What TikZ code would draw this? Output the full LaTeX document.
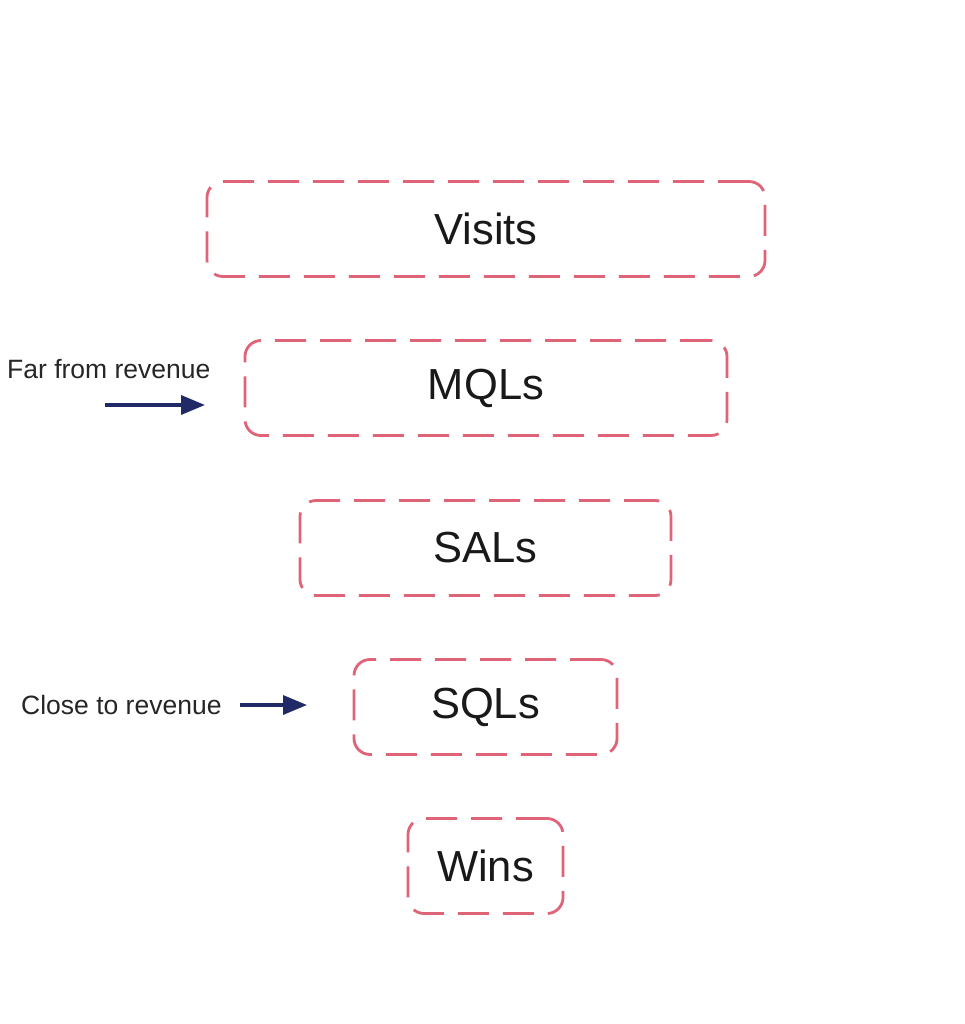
\documentclass[tikz,border=0pt]{standalone}
\usepackage{fontspec}
\setmainfont{Liberation Sans}
\usetikzlibrary{arrows.meta}
\definecolor{boxred}{HTML}{E06478}
\definecolor{navy}{HTML}{1F2A66}
\begin{document}
\begin{tikzpicture}[x=1pt,y=-1pt,
  stage/.style={draw=boxred, line width=2.8pt, dash pattern=on 31pt off 14pt,
    rounded corners=16pt, minimum height=95pt, inner sep=0pt,
    font=\fontsize{43.5}{50}\selectfont, text=black!90},
  note/.style={font=\fontsize{26.5}{30}\selectfont, text=black!85, inner sep=0pt},
  pointer/.style={draw=navy, line width=3.4pt, -{Triangle[length=24pt,width=19pt]}}]
\useasboundingbox[fill=white] (0,0) rectangle (965,1024);
\node[stage, minimum width=558pt] (visits) at (486,229) {Visits};
\node[stage, minimum width=482pt] (mqls) at (486,388) {MQLs};
\node[stage, minimum width=371pt] (sals) at (485.5,548) {SALs};
\node[stage, minimum width=263pt] (sqls) at (485.5,707) {SQLs};
\node[stage, minimum width=155pt] (wins) at (485.5,866) {Wins};
\node[note, anchor=west] (far) at (7,369) {Far from revenue};
\node[note, anchor=west] (close) at (21,705) {Close to revenue};
\coordinate (farstart) at (105,405);
\coordinate (farend) at (205,405);
\coordinate (closestart) at (240,705);
\coordinate (closeend) at (307,705);
\draw[pointer] (farstart) -- (farend);
\draw[pointer] (closestart) -- (closeend);
\end{tikzpicture}
\end{document}
